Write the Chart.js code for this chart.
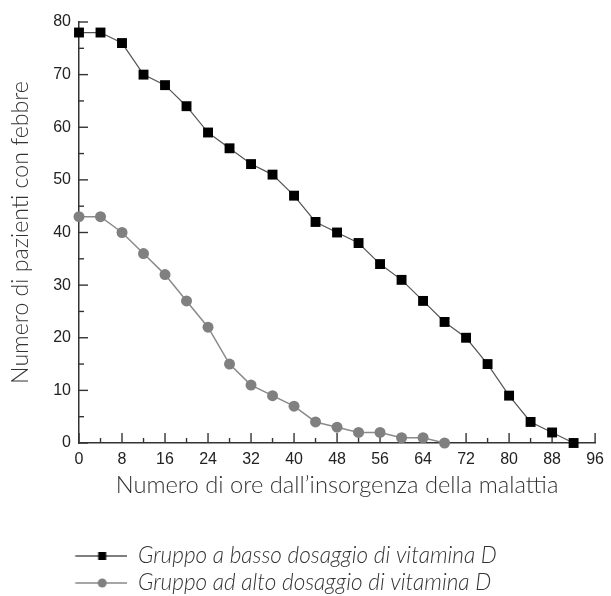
<!DOCTYPE html>
<html><head><meta charset="utf-8">
<script src="https://cdn.jsdelivr.net/npm/chart.js@4/dist/chart.umd.min.js"></script>
<style>html,body{margin:0;padding:0;background:#fff}#wrap{width:611px;height:596px}</style>
</head><body><div id="wrap"><canvas id="c" width="611" height="596"></canvas></div>
<script>
// ---- data ----
const lowHours = [0,4,8,12,16,20,24,28,32,36,40,44,48,52,56,60,64,68,72,76,80,84,88,92];
const lowDose  = [78,78,76,70,68,64,59,56,53,51,47,42,40,38,34,31,27,23,20,15,9,4,2,0];
const highHours = [0,4,8,12,16,20,24,28,32,36,40,44,48,52,56,60,64,68];
const highDose  = [43,43,40,36,32,27,22,15,11,9,7,4,3,2,2,1,1,0];
const xTickValues = [0,8,16,24,32,40,48,56,64,72,80,88,96];
const yTickValues = [0,10,20,30,40,50,60,70,80];
const seriesNames = ['Gruppo a basso dosaggio di vitamina D','Gruppo ad alto dosaggio di vitamina D'];
const xTitle = 'Numero di ore dall\u2019insorgenza della malattia';
const yTitle = 'Numero di pazienti con febbre';

// ---- styling helpers ----
const TITLE_FAMILY = 'Lato, "Open Sans", "DejaVu Sans", sans-serif';
const TICK_FONT = { family: '"Liberation Sans", Arial, sans-serif', size: 16 };
function fitSize(text, weight, style, family, target){
  const c = document.createElement('canvas').getContext('2d');
  c.font = `${style} ${weight} 20px ${family}`;
  return 20 * target / c.measureText(text).width;
}
const xTitleSize = fitSize(xTitle, 300, 'normal', TITLE_FAMILY, 443);
const yTitleSize = fitSize(yTitle, 300, 'normal', TITLE_FAMILY, 303);
const legSize = fitSize(seriesNames[0], 300, 'italic', TITLE_FAMILY, 359);
const legPad = 27 - legSize;
const legBoxW = 138 - legPad - legSize/2;

function legendImage(kind){
  const w = Math.round(legBoxW), h = 16;
  const cv = document.createElement('canvas'); cv.width = w; cv.height = h;
  const g = cv.getContext('2d');
  const off = legPad;
  g.strokeStyle = kind === 'rect' ? '#555' : '#888';
  g.lineWidth = 1.3;
  g.beginPath(); g.moveTo(75 - off, h/2); g.lineTo(127 - off, h/2); g.stroke();
  if (kind === 'rect'){ g.fillStyle = '#000'; g.fillRect(102 - off - 4, h/2-4, 8, 8); }
  else { g.fillStyle = '#808080'; g.beginPath(); g.arc(102 - off, h/2, 4.5, 0, Math.PI*2); g.fill(); }
  return cv;
}
const legImgs = [legendImage('rect'), legendImage('circle')];

const innerTicks = {
  id: 'innerTicks',
  beforeDatasetsDraw(chart){
    const {ctx, chartArea, scales:{x, y}} = chart;
    ctx.save(); ctx.strokeStyle = '#333'; ctx.lineWidth = 1.4;
    for (let v = 0; v <= 96; v += 4){
      const px = x.getPixelForValue(v);
      const len = v % 8 === 0 ? 10 : 5;
      ctx.beginPath(); ctx.moveTo(px, chartArea.bottom); ctx.lineTo(px, chartArea.bottom - len); ctx.stroke();
    }
    for (let v = 0; v <= 80; v += 5){
      const py = y.getPixelForValue(v);
      const len = v % 10 === 0 ? 9 : 5;
      ctx.beginPath(); ctx.moveTo(chartArea.left, py); ctx.lineTo(chartArea.left + len, py); ctx.stroke();
    }
    ctx.restore();
  }
};
const legendShift = {
  id: 'legendShift',
  afterLayout(chart){
    const lg = chart.legend; if (!lg) return;
    const target = 556 - legPad - legSize/2;
    const d = target - lg.top;
    lg.top += d; lg.bottom += d;
  }
};

const xTitleLH = xTitleSize * 1.2;
new Chart(document.getElementById('c'), {
  type: 'line',
  data: {
    datasets: [
      { label: seriesNames[0], data: lowHours.map((h,i)=>({x:h, y:lowDose[i]})),
        borderColor: '#555', borderWidth: 1.2, backgroundColor: '#000',
        pointStyle: 'rect', pointRadius: 7, pointBorderWidth: 0, pointBackgroundColor: '#000',
        tension: 0, clip: false },
      { label: seriesNames[1], data: highHours.map((h,i)=>({x:h, y:highDose[i]})),
        borderColor: '#8a8a8a', borderWidth: 1.5, backgroundColor: '#808080',
        pointStyle: 'circle', pointRadius: 5.5, pointBorderWidth: 0, pointBackgroundColor: '#808080',
        tension: 0, clip: false }
    ]
  },
  options: {
    responsive: false, animation: false, devicePixelRatio: 1,
    layout: { padding: { top: 22, right: 12, left: 0, bottom: 0 } },
    plugins: {
      tooltip: { enabled: false },
      legend: {
        position: 'bottom', align: 'start',
        labels: {
          usePointStyle: true, pointStyleWidth: legBoxW, padding: legPad,
          color: '#333',
          font: { family: TITLE_FAMILY, size: legSize, style: 'italic', weight: 300 },
          generateLabels(chart){
            const items = Chart.defaults.plugins.legend.labels.generateLabels(chart);
            items.forEach((it,i)=>{ it.pointStyle = legImgs[i]; });
            return items;
          }
        }
      }
    },
    scales: {
      x: {
        type: 'linear', min: 0, max: 96,
        afterBuildTicks(s){ s.ticks = xTickValues.map(v=>({value:v})); },
        afterFit(s){ s.height = 89; },
        grid: { display: false, drawTicks: false },
        border: { display: true, color: '#333', width: 1.5 },
        ticks: { padding: 7, color: '#222', maxRotation: 0, autoSkip: false, font: TICK_FONT },
        title: { display: true, text: xTitle, color: '#333',
                 font: { family: TITLE_FAMILY, size: xTitleSize, weight: 300 },
                 padding: { top: 0, bottom: 47 - xTitleLH/2 } }
      },
      y: {
        type: 'linear', min: 0, max: 80,
        afterBuildTicks(s){ s.ticks = yTickValues.map(v=>({value:v})); },
        afterFit(s){ s.width = 79; },
        grid: { display: false, drawTicks: false },
        border: { display: true, color: '#333', width: 1.5 },
        ticks: { padding: 8, color: '#222', font: TICK_FONT },
        title: { display: true, text: yTitle, color: '#333',
                 font: { family: TITLE_FAMILY, size: yTitleSize, weight: 300 },
                 padding: { top: 21 - yTitleSize*0.6, bottom: 0 } }
      }
    }
  },
  plugins: [innerTicks, legendShift]
});
</script>
</body></html>
